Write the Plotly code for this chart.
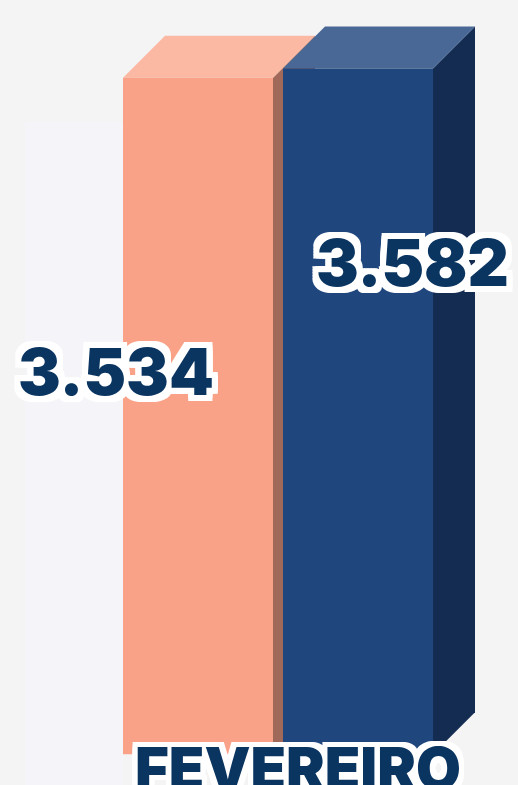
import plotly.graph_objects as go

# data
categories = ["FEVEREIRO"]
series = ["Anterior", "Atual"]
values = [3534, 3582]
labels = ["3.534", "3.582"]

front_colors = ["#faa287", "#20467e"]
top_colors = ["#fbb8a2", "#4a6896"]
side_colors = ["#a0695a", "#152c52"]

W, H = 518, 785
Y_MIN, Y_MAX = -160, 3940
px_y = (Y_MAX - Y_MIN) / H          # value units per pixel
bar_w = 150
centers = [198, 358]
depth_x = 42
depth_y = 42 * px_y
TXT = "#0a3561"
FONT = "Inter"


def outline(r):
    h = r // 2
    dirs = [(r, 0), (-r, 0), (0, r), (0, -r), (r, r), (-r, -r), (r, -r), (-r, r),
            (r, h), (-r, h), (r, -h), (-r, -h), (h, r), (-h, r), (h, -r), (-h, -r)]
    return ", ".join(f"white {a}px {b}px 0px" for a, b in dirs)


def face(xs, ys, color):
    return go.Scatter(x=xs + xs[:1], y=ys + ys[:1], fill="toself", mode="lines",
                      line=dict(width=0), fillcolor=color,
                      hoverinfo="skip", showlegend=False)


fig = go.Figure()

# subtle background panel
fig.add_shape(type="rect", xref="x", yref="y", x0=25, x1=123, y0=Y_MIN, y1=3300,
              fillcolor="#f5f5f9", line_width=0, layer="below")

for i, (name, v) in enumerate(zip(series, values)):
    c = centers[i]
    x0, x1 = c - bar_w / 2, c + bar_w / 2
    # side, top, front faces (drawn in order so the next bar covers this one)
    fig.add_trace(face([x1, x1, x1 + depth_x, x1 + depth_x],
                       [0, v, v + depth_y, depth_y], side_colors[i]))
    fig.add_trace(face([x0, x1, x1 + depth_x, x0 + depth_x],
                       [v, v, v + depth_y, v + depth_y], top_colors[i]))
    fig.add_trace(face([x0, x1, x1, x0], [0, 0, v, v], front_colors[i]))

# value labels
label_pos = [(116, 371), (412, 263)]
for (lx, ly), t in zip(label_pos, labels):
    fig.add_annotation(
        x=lx, y=1 - ly / H, xref="x", yref="paper", text=t, showarrow=False,
        xanchor="center", yanchor="middle",
        font=dict(family=FONT, size=64, color=TXT, weight=900,
                  shadow=outline(6)),
    )

# category label
fig.add_annotation(
    x=298, y=1 - 768 / H, xref="x", yref="paper", text=categories[0],
    showarrow=False, xanchor="center", yanchor="middle",
    font=dict(family=FONT, size=58, color=TXT, weight=900,
              shadow=outline(5)),
)

fig.update_layout(
    width=W, height=H,
    margin=dict(l=0, r=0, t=0, b=0),
    paper_bgcolor="#f4f4f5",
    plot_bgcolor="#f4f4f5",
    xaxis=dict(range=[0, W], visible=False, fixedrange=True),
    yaxis=dict(range=[Y_MIN, Y_MAX], visible=False, fixedrange=True),
)

fig.write_html("out.html", config={"displayModeBar": False},
               post_script="document.body.style.margin='0px';")
